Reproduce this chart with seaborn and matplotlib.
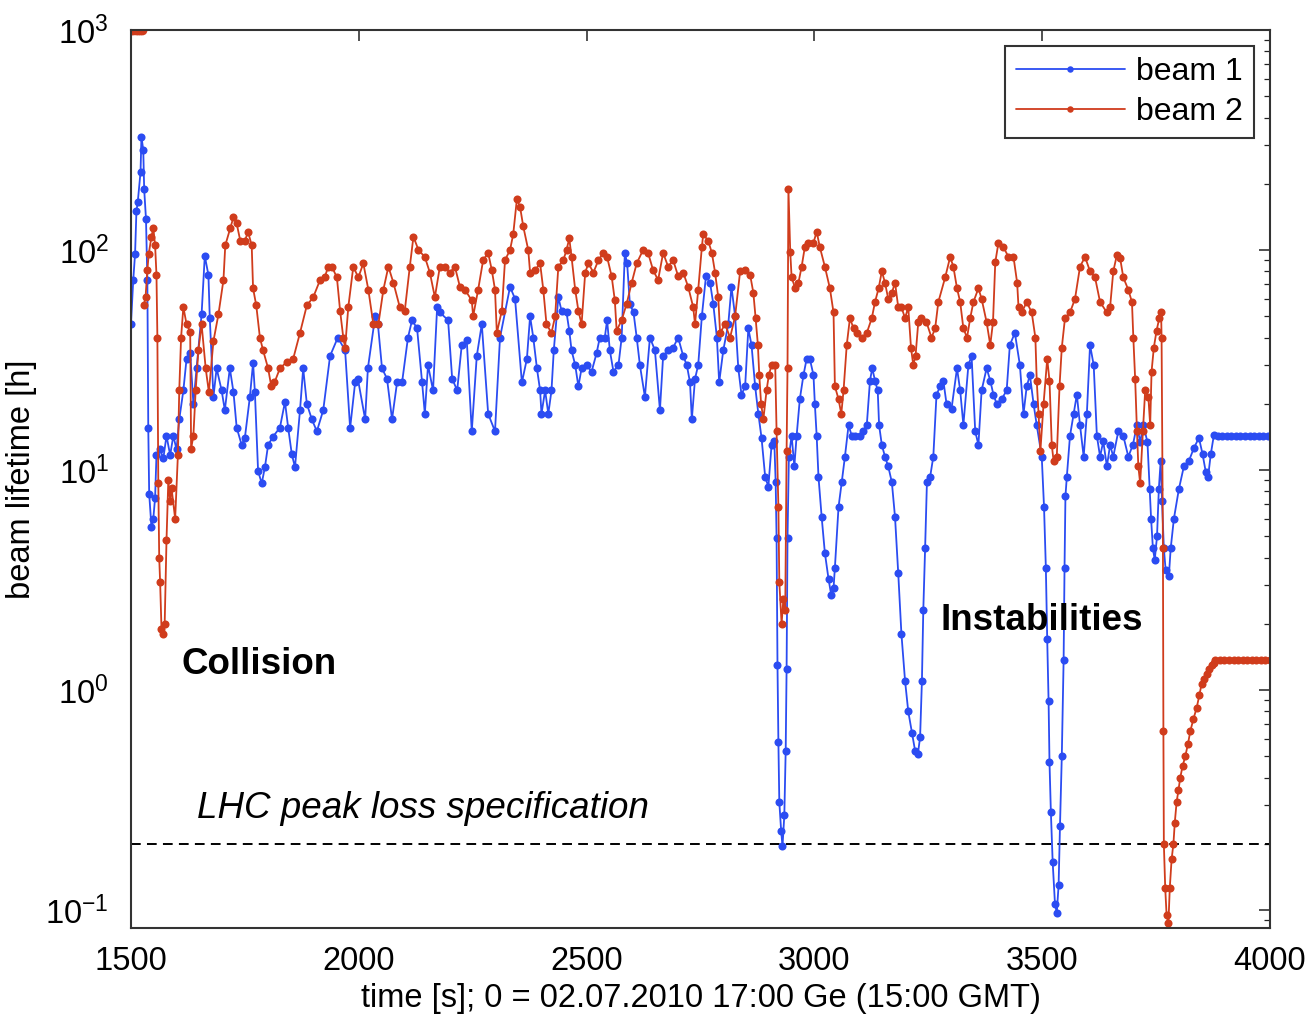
import matplotlib
matplotlib.use("Agg")
import matplotlib.pyplot as plt
import seaborn as sns
import pandas as pd

# ---------------- data ----------------
beam1_t = [1500, 1505, 1509, 1512, 1515, 1521, 1523, 1527, 1529, 1533, 1536, 1538, 1540, 1545, 1549,
           1553, 1556, 1564, 1571, 1578, 1586, 1593, 1600, 1606, 1615, 1622, 1630, 1637, 1644, 1655,
           1662, 1670, 1673, 1681, 1688, 1699, 1706, 1717, 1725, 1732, 1743, 1750, 1761, 1768, 1772,
           1779, 1787, 1794, 1801, 1812, 1827, 1838, 1845, 1853, 1860, 1871, 1878, 1886, 1897, 1908,
           1922, 1937, 1954, 1970, 1981, 1992, 1998, 2014, 2020, 2036, 2042, 2051, 2062, 2073, 2084,
           2095, 2108, 2117, 2128, 2139, 2145, 2152, 2163, 2172, 2178, 2196, 2205, 2216, 2226, 2237,
           2248, 2259, 2270, 2284, 2299, 2310, 2332, 2343, 2358, 2369, 2376, 2383, 2391, 2398, 2401,
           2409, 2416, 2423, 2428, 2438, 2445, 2456, 2462, 2467, 2475, 2482, 2489, 2500, 2511, 2522,
           2529, 2540, 2545, 2551, 2559, 2570, 2577, 2584, 2589, 2595, 2603, 2610, 2617, 2628, 2639,
           2650, 2661, 2668, 2679, 2690, 2701, 2712, 2720, 2727, 2731, 2738, 2745, 2753, 2762, 2771,
           2778, 2786, 2791, 2800, 2811, 2818, 2826, 2833, 2840, 2848, 2855, 2862, 2870, 2877, 2884,
           2892, 2899, 2906, 2912, 2915, 2917, 2919, 2921, 2923, 2927, 2930, 2934, 2937, 2939, 2941,
           2944, 2950, 2956, 2961, 2968, 2976, 2983, 2990, 2998, 3001, 3005, 3009, 3016, 3023, 3031,
           3037, 3042, 3045, 3053, 3060, 3067, 3075, 3082, 3089, 3100, 3107, 3115, 3122, 3127, 3133,
           3139, 3142, 3148, 3155, 3162, 3170, 3177, 3184, 3191, 3199, 3206, 3214, 3221, 3227, 3232,
           3236, 3239, 3243, 3247, 3254, 3261, 3268, 3276, 3283, 3290, 3301, 3313, 3320, 3327, 3338,
           3345, 3353, 3360, 3367, 3378, 3386, 3393, 3400, 3411, 3422, 3429, 3440, 3451, 3459, 3466,
           3473, 3481, 3488, 3499, 3504, 3508, 3511, 3514, 3516, 3519, 3523, 3528, 3532, 3536, 3539,
           3543, 3547, 3549, 3551, 3554, 3561, 3569, 3576, 3583, 3591, 3598, 3605, 3613, 3620, 3627,
           3634, 3642, 3649, 3656, 3667, 3678, 3689, 3699, 3708, 3715, 3722, 3731, 3736, 3739, 3743,
           3747, 3752, 3756, 3760, 3763, 3767, 3771, 3778, 3782, 3789, 3800, 3811, 3822, 3833, 3844,
           3852, 3859, 3864, 3870, 3877, 3885, 3895, 3905, 3915, 3925, 3935, 3945, 3955, 3965, 3975,
           3985, 3995, 4000]
beam1_v = [46, 73, 96, 150, 166, 226, 327, 285, 189, 138, 73, 15.5, 7.8, 5.5, 6.0,
           7.5, 11.7, 12.4, 11.3, 14.3, 11.7, 14.3, 12.4, 17, 23, 32, 34, 20, 29, 51,
           94, 77, 49, 21.5, 29, 23, 18.7, 29, 22.6, 15.6, 13, 14, 21.5, 30.7, 22.6,
           9.9, 8.7, 10.3, 13, 14.2, 15.6, 20.4, 15.6, 11.8, 10.3, 18.7, 29, 20, 17, 15,
           18.7, 33, 40, 35, 15.5, 25, 26, 17, 29, 50, 46, 29, 26, 17, 25,
           25, 40, 48, 44, 25, 18, 30, 23, 55, 52, 48, 26, 23, 37, 39,
           15, 33, 46, 18, 15, 40, 68, 60, 25, 32, 50, 40, 29, 23, 18,
           23, 18, 23, 35, 61, 53, 52, 43, 35, 30, 24, 29, 30, 28, 34,
           40, 40, 48, 35, 28, 30, 40, 97, 87, 57, 52, 40, 30, 21.5, 40,
           35, 18.7, 33, 35, 36, 40, 33, 30, 25, 17, 26, 30, 50, 76, 71,
           57, 40, 25, 35, 46, 68, 50, 29, 22, 24, 44, 37, 24, 18, 14,
           9.3, 8.4, 13, 13.5, 8.8, 4.9, 1.3, 0.58, 0.31, 0.23, 0.195, 0.27, 0.53, 1.25, 4.9,
           11.5, 14.3, 10.4, 14.3, 21, 27, 32, 32, 27, 20, 14.3, 9.3, 6.1, 4.2, 3.2,
           2.7, 2.9, 3.6, 6.8, 8.8, 11.5, 16, 14.3, 14.3, 14.3, 15, 16, 25.5, 29, 25.5,
           23, 16, 13, 11.5, 10.4, 8.8, 6.1, 3.4, 1.8, 1.1, 0.8, 0.64, 0.53, 0.51, 0.61,
           1.1, 2.3, 4.4, 8.8, 9.3, 11.5, 22, 24, 25.5, 20, 19, 29, 23, 16, 30,
           33, 15, 13, 23, 29, 25.5, 22, 20, 21, 23, 37, 42, 30, 18, 24,
           27, 20, 16, 11.5, 6.8, 3.6, 1.7, 0.89, 0.47, 0.28, 0.165, 0.107, 0.097, 0.13, 0.24,
           0.5, 1.37, 3.6, 7.6, 9.3, 14.3, 18, 22, 16, 11.5, 18, 37, 30, 14.3, 11.5,
           13.5, 10.4, 13, 11.5, 15, 14.3, 11.5, 13, 16, 13.4, 16, 13.4, 8.2, 6.0, 4.4,
           3.9, 5.0, 8.2, 11, 7.2, 4.4, 3.5, 3.3, 4.4, 6.0, 8.2, 10.4, 11, 12.6, 14,
           11.8, 9.8, 9.3, 11.8, 14.5, 14.3, 14.3, 14.3, 14.3, 14.3, 14.3, 14.3, 14.3, 14.3, 14.3,
           14.3, 14.3, 14.3]

# beam 2: saturated (off-scale) readings at the very start
beam2_top_t = [1500, 1505, 1510, 1515, 1520, 1525]
beam2_top_v = [1000, 1000, 1000, 1000, 1000, 1000]

beam2_t = [1528, 1532, 1536, 1539, 1545, 1549, 1553, 1556, 1558,
           1560, 1562, 1564, 1567, 1571, 1574, 1578, 1582, 1586, 1589, 1597, 1603, 1606, 1610, 1615,
           1622, 1630, 1632, 1637, 1642, 1648, 1655, 1664, 1671, 1681, 1692, 1703, 1707, 1718, 1725,
           1732, 1740, 1750, 1757, 1765, 1768, 1775, 1783, 1790, 1801, 1808, 1815, 1827, 1842, 1856,
           1871, 1886, 1900, 1915, 1925, 1933, 1941, 1952, 1959, 1966, 1970, 1977, 1988, 1999, 2010,
           2021, 2032, 2043, 2054, 2065, 2076, 2090, 2101, 2112, 2120, 2131, 2145, 2156, 2167, 2178,
           2189, 2200, 2211, 2222, 2233, 2248, 2251, 2262, 2273, 2284, 2292, 2299, 2303, 2314, 2321,
           2332, 2339, 2347, 2354, 2361, 2372, 2376, 2387, 2398, 2405, 2412, 2423, 2431, 2438, 2449,
           2456, 2462, 2467, 2475, 2482, 2489, 2497, 2504, 2515, 2526, 2537, 2545, 2555, 2562, 2566,
           2577, 2588, 2599, 2610, 2624, 2635, 2646, 2657, 2668, 2679, 2690, 2701, 2712, 2723, 2734,
           2738, 2745, 2753, 2756, 2767, 2775, 2782, 2789, 2793, 2804, 2815, 2826, 2837, 2848, 2859,
           2866, 2871, 2876, 2879, 2883, 2888, 2895, 2900, 2906, 2914, 2917, 2921, 2923, 2928, 2932,
           2936, 2939, 2941, 2943, 2947, 2950, 2958, 2965, 2972, 2979, 2987, 2998, 3005, 3012, 3023,
           3034, 3042, 3045, 3053, 3059, 3064, 3071, 3078, 3086, 3093, 3104, 3115, 3126, 3133, 3141,
           3148, 3155, 3162, 3170, 3177, 3184, 3191, 3199, 3206, 3212, 3217, 3222, 3228, 3235, 3246,
           3257, 3265, 3272, 3287, 3298, 3305, 3313, 3320, 3327, 3335, 3342, 3349, 3360, 3367, 3378,
           3386, 3392, 3397, 3404, 3415, 3426, 3437, 3445, 3448, 3455, 3466, 3477, 3485, 3488, 3492,
           3496, 3503, 3511, 3516, 3521, 3525, 3532, 3538, 3543, 3550, 3561, 3572, 3583, 3594, 3605,
           3616, 3627, 3642, 3649, 3656, 3664, 3671, 3678, 3689, 3697, 3700, 3704, 3708, 3711, 3715,
           3721, 3726, 3733, 3737, 3740, 3745, 3751, 3757, 3761, 3762, 3765, 3766, 3767, 3770, 3773,
           3777, 3780, 3784, 3788, 3791, 3795, 3799, 3803, 3808, 3814, 3820, 3825, 3832, 3839, 3845,
           3850, 3856, 3861, 3866, 3872, 3876, 3880, 3890, 3900, 3910, 3920, 3930, 3940, 3950, 3960,
           3970, 3980, 3990, 4000]
beam2_v = [56, 61, 81, 96, 115, 126, 105, 77, 40,
           8.7, 4.0, 3.1, 1.9, 1.8, 2.0, 4.8, 9.0, 7.2, 8.3, 6.0, 11.7, 23, 40, 55,
           46, 42.5, 12.5, 14.3, 23, 35, 46, 29, 22.6, 38.5, 51, 73, 105, 126, 141,
           132, 110, 110, 121, 105, 67, 56, 40, 35, 29, 24, 25, 29, 31, 32,
           42, 56, 61, 73, 75, 84, 84, 75, 53, 40, 36, 55, 84, 75, 87,
           66, 46, 46, 66, 84, 71, 55, 53, 84, 115, 100, 93, 79, 61, 84,
           84, 79, 84, 68, 66, 59, 50, 66, 90, 97, 81, 66, 42, 53, 90,
           100, 118, 170, 157, 128, 100, 79, 81, 87, 66, 46, 42, 50, 84, 90,
           100, 113, 93, 66, 53, 46, 79, 87, 79, 90, 97, 93, 76, 59, 43,
           48, 57, 71, 87, 100, 97, 81, 73, 97, 84, 90, 76, 79, 68, 55,
           46, 66, 103, 118, 110, 97, 79, 61, 42, 46, 40, 50, 80, 81, 77,
           64, 49, 37, 27, 20, 17, 23, 27, 30, 30, 15, 6.8, 3.1, 2.0, 2.6,
           2.3, 12.2, 29, 190, 98, 75, 67, 71, 84, 103, 108, 108, 121, 103, 84,
           67, 52, 24, 21, 18, 23, 37, 49, 44, 42, 40, 42, 49, 58, 67,
           80, 71, 60, 64, 71, 55, 55, 49, 55, 36, 30, 33, 47, 49, 47,
           40, 44, 58, 75, 93, 84, 67, 58, 44, 40, 49, 58, 67, 60, 47,
           37, 47, 88, 108, 103, 93, 93, 71, 55, 52, 58, 52, 40, 25.5, 18,
           12.2, 20, 32, 25.5, 13, 11, 11.5, 24, 36, 49, 52, 60, 84, 93, 80,
           75, 58, 52, 55, 80, 95, 92, 75, 66, 58, 40, 26, 15, 10.4, 8.7,
           15, 23, 21.5, 16, 28, 36, 43, 49, 52, 40, 4.4, 0.65, 0.2, 0.126, 0.095,
           0.087, 0.126, 0.17, 0.2, 0.25, 0.31, 0.35, 0.4, 0.45, 0.5, 0.57, 0.65, 0.74, 0.83, 0.95,
           1.07, 1.12, 1.18, 1.25, 1.3, 1.33, 1.37, 1.37, 1.37, 1.37, 1.37, 1.37, 1.37, 1.37, 1.37,
           1.37, 1.37, 1.37, 1.37]

beam_labels = ["beam 1", "beam 2"]
spec_level = 0.2
x_ticks = [1500, 2000, 2500, 3000, 3500, 4000]
x_label = "time [s]; 0 = 02.07.2010 17:00 Ge (15:00 GMT)"
y_label = "beam lifetime [h]"

# ---------------- style ----------------
sns.set_style("white")
plt.rcParams["font.family"] = ["Liberation Sans", "DejaVu Sans"]
plt.rcParams["mathtext.fontset"] = "custom"
plt.rcParams["mathtext.rm"] = "Liberation Sans"
plt.rcParams["mathtext.it"] = "Liberation Sans:italic"
plt.rcParams["mathtext.bf"] = "Liberation Sans:bold"
plt.rcParams["lines.scale_dashes"] = False
plt.rcParams["text.color"] = "black"
plt.rcParams["axes.labelcolor"] = "black"
plt.rcParams["xtick.color"] = "black"
plt.rcParams["ytick.color"] = "black"

blue = "#2b4cf2"
red = "#d03c1c"

fig = plt.figure(figsize=(13.07, 10.16), dpi=100)
ax = fig.add_axes([0.1002, 0.0866, 0.8715, 0.8839])

df1 = pd.DataFrame({"t": beam1_t, "v": beam1_v})
df2 = pd.DataFrame({"t": beam2_t, "v": beam2_v})
df2top = pd.DataFrame({"t": beam2_top_t, "v": beam2_top_v})

common = dict(estimator=None, sort=False, marker="o", markersize=5.8,
              markeredgewidth=0, linewidth=1.3)
sns.lineplot(data=df1, x="t", y="v", color=blue, label=beam_labels[0], ax=ax, **common)
sns.lineplot(data=df2, x="t", y="v", color=red, label=beam_labels[1], ax=ax, **common)
sns.lineplot(data=df2top, x="t", y="v", color=red, legend=False, ax=ax,
             estimator=None, sort=False, marker="o", markersize=7, markeredgewidth=0,
             linewidth=3)

ax.axhline(spec_level, color="black", lw=1.4, dashes=(7, 4.5), zorder=1)

ax.set_yscale("log")
ax.set_xlim(1500, 4000)
ax.set_ylim(0.0829, 1000)
ax.set_xticks(x_ticks)
ax.set_xticklabels([str(v) for v in x_ticks])
ax.yaxis.set_minor_locator(matplotlib.ticker.LogLocator(base=10, subs=range(2, 10), numticks=20))
ax.yaxis.set_minor_formatter(matplotlib.ticker.NullFormatter())

ax.tick_params(which="both", direction="in", top=True, right=True, colors="#222222")
ax.tick_params(which="major", length=8, width=1.1, labelsize=23.5, labelcolor="black")
ax.tick_params(axis="x", which="major", pad=13)
ax.tick_params(axis="y", which="major", pad=16)
ax.tick_params(which="minor", length=4.5, width=0.9)
for s in ax.spines.values():
    s.set_color("#333333")
    s.set_linewidth(1.5)

ax.set_xlabel(x_label, fontsize=23.5, labelpad=4)
ax.set_ylabel(y_label, fontsize=23.5, labelpad=6)

ax.text(1610, 1.3, "Collision", fontsize=26.5, fontweight="bold", ha="left", va="center")
ax.text(3276, 2.08, "Instabilities", fontsize=26.5, fontweight="bold", ha="left", va="center")
ax.text(1645, 0.29, "LHC peak loss specification", fontsize=26.5, style="italic",
        ha="left", va="center")

leg = ax.legend(loc="upper right", fontsize=23, frameon=True, fancybox=False,
                framealpha=1, edgecolor="#333333", handlelength=3.4, handletextpad=0.35,
                borderpad=0.35, labelspacing=0.3, borderaxespad=0.5, numpoints=1,
                markerscale=0.8)
leg.get_frame().set_linewidth(1.5)

fig.savefig("out.png", dpi=100)
